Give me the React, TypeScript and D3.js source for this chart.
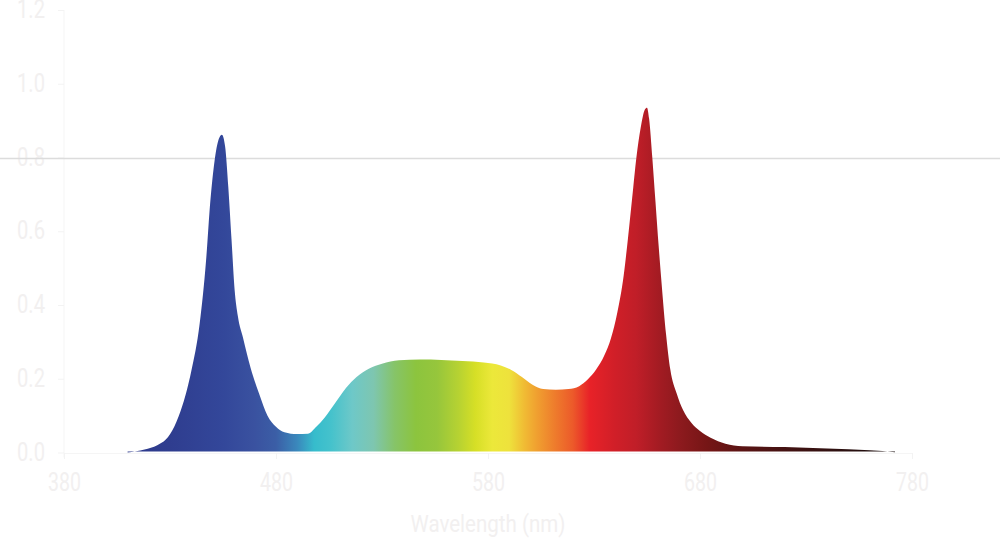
import { useEffect, useRef } from "react";
import * as d3 from "d3";

// spectrum samples (wavelength nm, relative intensity)
const wavelengths = [
  410, 418, 424, 428, 432, 436, 440, 444, 447, 449, 451, 453, 454.5, 456, 457.5,
  459, 460.5, 462, 464.5, 468, 472, 476, 480, 484, 490, 495, 499, 503, 508, 513,
  518, 524, 530, 538, 548, 558, 568, 578, 586, 591, 596, 601, 606, 612, 618, 623,
  627, 631, 635, 638, 641, 644, 646, 648, 650, 652, 654, 655, 656, 657.5, 659,
  660.5, 662, 664, 666, 669, 672, 676, 680, 685, 692, 700, 720, 740, 760, 772,
];
const intensity = [
  0.0, 0.008, 0.02, 0.035, 0.07, 0.13, 0.22, 0.35, 0.52, 0.68, 0.79, 0.85, 0.862,
  0.83, 0.72, 0.58, 0.44, 0.37, 0.31, 0.23, 0.16, 0.1, 0.07, 0.055, 0.05, 0.051,
  0.07, 0.095, 0.135, 0.175, 0.205, 0.228, 0.241, 0.25, 0.252, 0.251, 0.248,
  0.244, 0.236, 0.224, 0.205, 0.184, 0.172, 0.17, 0.172, 0.18, 0.198, 0.225,
  0.265, 0.31, 0.38, 0.48, 0.58, 0.69, 0.8, 0.88, 0.93, 0.935, 0.905, 0.8, 0.68,
  0.56, 0.45, 0.32, 0.225, 0.16, 0.115, 0.08, 0.058, 0.04, 0.024, 0.017, 0.015,
  0.011, 0.006, 0.001,
];

// colour of the fill along the wavelength axis
const stopNm = [
  410, 430, 455, 470, 480, 490, 498, 506, 516, 526, 536, 546, 556, 566, 574, 582,
  590, 597, 603, 612, 620, 628, 640, 650, 662, 670, 683, 700, 720, 745, 770,
];
const stopColors = [
  "#2d3a8c", "#2f3d8f", "#33479a", "#3a52a0", "#3b5ea6", "#3a88bc", "#36bccc",
  "#45c2cc", "#6ec8c8", "#7ec6b0", "#86c468", "#8cc43e", "#96c63c", "#b6d232",
  "#d6df26", "#ece83a", "#eee23c", "#f0bc34", "#f0a030", "#ee7a2c", "#ec5a2a",
  "#e82228", "#d01f28", "#c01e28", "#a01b22", "#8e1a1e", "#761616", "#5a1414",
  "#441212", "#2e1010", "#160a0a",
];

const xTicks = [380, 480, 580, 680, 780];
const yTicks = [0, 0.2, 0.4, 0.6, 0.8, 1.0, 1.2];
const gridValues = [0.8];

const W = 1000;
const H = 540;
const FONT = "Roboto, 'Liberation Sans', sans-serif";
const FAINT = "#f2f0f0";

export default function App() {
  const svgRef = useRef<SVGSVGElement>(null);

  useEffect(() => {
    if (!svgRef.current) return;
    const svg = d3.select(svgRef.current);
    svg.selectAll("*").remove();

    const x = d3.scaleLinear().domain([380, 780]).range([64, 912]);
    const y = d3.scaleLinear().domain([0, 1.2]).range([452.5, 10]);

    // gradient
    const grad = svg
      .append("defs")
      .append("linearGradient")
      .attr("id", "spectrum")
      .attr("gradientUnits", "userSpaceOnUse")
      .attr("x1", x(380))
      .attr("x2", x(780))
      .attr("y1", 0)
      .attr("y2", 0);
    stopNm.forEach((nm, i) => {
      grad
        .append("stop")
        .attr("offset", (nm - 380) / 400)
        .attr("stop-color", stopColors[i]);
    });

    // Y axis
    const yAxis = svg
      .append("g")
      .attr("transform", `translate(${x(380)},0)`)
      .call(
        d3
          .axisLeft(y)
          .tickValues(yTicks)
          .tickFormat(d3.format(".1f"))
          .tickSize(6)
          .tickSizeOuter(0)
          .tickPadding(13)
      );
    yAxis.select(".domain").attr("stroke", "#f5f5f5").attr("d", `M0,${y(1.2)}V${y(0) + 5}`);
    yAxis.selectAll(".tick line").attr("stroke", "#f3f3f3");
    yAxis
      .selectAll("text")
      .attr("fill", FAINT)
      .attr("font-family", FONT)
      .attr("font-size", 25)
      .attr("dy", "0.3em")
      .attr("textLength", 28)
      .attr("lengthAdjust", "spacingAndGlyphs");

    // X axis
    const xAxis = svg
      .append("g")
      .attr("transform", `translate(0,${y(0) + 0.5})`)
      .call(
        d3
          .axisBottom(x)
          .tickValues(xTicks)
          .tickFormat(d3.format("d"))
          .tickSize(6)
          .tickSizeOuter(0)
          .tickPadding(14)
      );
    xAxis.select(".domain").attr("stroke", "#f5f5f5");
    xAxis.selectAll(".tick line").attr("stroke", "#f3f3f3");
    xAxis
      .selectAll("text")
      .attr("fill", FAINT)
      .attr("font-family", FONT)
      .attr("font-size", 25)
      .attr("textLength", 33)
      .attr("lengthAdjust", "spacingAndGlyphs");

    // Horizontal reference line at 0.8, across the whole picture
    svg
      .append("g")
      .selectAll("line")
      .data(gridValues)
      .join("line")
      .attr("x1", 0)
      .attr("x2", W)
      .attr("y1", (d) => y(d) + 1)
      .attr("y2", (d) => y(d) + 1)
      .attr("stroke", "#dcdcdc")
      .attr("stroke-width", 1.5);

    // Spectrum area
    const pts = wavelengths.map((nm, i) => ({ nm, v: intensity[i] }));
    const area = d3
      .area<{ nm: number; v: number }>()
      .x((d) => x(d.nm))
      .y0(y(0) - 1)
      .y1((d) => y(d.v))
      .curve(d3.curveMonotoneX);

    svg.append("path").datum(pts).attr("fill", "url(#spectrum)").attr("d", area);

    // Axis title
    svg
      .append("text")
      .attr("x", x(580))
      .attr("y", 532)
      .attr("text-anchor", "middle")
      .attr("fill", FAINT)
      .attr("font-family", FONT)
      .attr("font-size", 24)
      .attr("textLength", 155)
      .attr("lengthAdjust", "spacingAndGlyphs")
      .text("Wavelength (nm)");
  }, []);

  return (
    <svg
      ref={svgRef}
      width={W}
      height={H}
      style={{ position: "absolute", left: 0, top: 0, display: "block", background: "#fff" }}
    />
  );
}
